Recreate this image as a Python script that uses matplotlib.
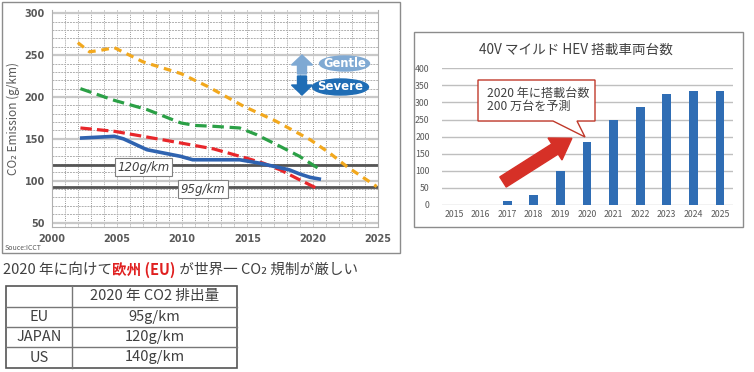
import matplotlib
matplotlib.use("Agg")
import matplotlib.pyplot as plt
from matplotlib.patches import Rectangle, Ellipse, FancyArrow, Polygon

plt.rcParams['font.family'] = ['Noto Sans CJK JP', 'DejaVu Sans']

# --- left chart: CO2 emission trends
orange_x = [2002.0, 2002.9, 2003.8, 2004.8, 2007.0, 2009.9, 2011.9, 2014.7, 2017.2, 2019.8, 2021.3, 2022.6, 2024.9]
orange_y = [265, 254, 256, 259, 242, 228, 213, 189, 171, 149, 133, 117, 93]
green_x = [2002.2, 2004.8, 2007.3, 2009.9, 2011.0, 2012.4, 2014.4, 2015.7, 2017.5, 2019.0, 2020.4]
green_y = [210, 196, 185, 169, 166, 165, 163, 155, 141, 129, 115]
red_x = [2002.2, 2004.8, 2007.0, 2009.9, 2012.4, 2014.9, 2016.2, 2017.5, 2019.0, 2020.3]
red_y = [163, 159, 153, 145, 138, 127, 121, 113, 101, 91]
blue_x = [2002.3, 2004.8, 2005.5, 2007.3, 2009.9, 2010.8, 2014.4, 2015.9, 2018.2, 2019.0, 2019.8, 2020.5]
blue_y = [151, 153, 150, 137, 129, 125, 125, 121, 113, 108, 104, 102]
ref_values = [118.5, 92]
ref_labels = ['120g/km', '95g/km']

# --- right chart: 40V mild HEV volume
bar_years = [2015, 2016, 2017, 2018, 2019, 2020, 2021, 2022, 2023, 2024, 2025]
bar_values = [0, 0, 11, 28, 100, 183, 249, 286, 325, 334, 334]

# --- table
table_header = '2020 年 CO2 排出量'
table_regions = ['EU', 'JAPAN', 'US']
table_limits = ['95g/km', '120g/km', '140g/km']

W, H = 754, 372
fig = plt.figure(figsize=(W / 100, H / 100), dpi=100)

def box(l, t, r, b):
    return [l / W, 1 - b / H, (r - l) / W, (b - t) / H]

gray = '#595959'

# left chart
ax = fig.add_axes(box(51.7, 10, 378, 226.7))
ax.set_xlim(2000, 2025)
ax.set_ylim(45, 304)
for yr in range(2001, 2025):
    ax.axvline(yr, color='#9a9a9a', lw=0.7, ls=(0, (1, 1.2)), zorder=0)
for v in range(50, 301, 10):
    if v % 50 == 0:
        ax.axhline(v, color='#c8c8c8', lw=1.6, zorder=0)
    else:
        ax.axhline(v, color='#b0b0b0', lw=0.7, ls=(0, (2, 1)), zorder=0)
for sp in ax.spines.values():
    sp.set_color('#b0b0b0')
ax.spines['top'].set_visible(False)
ax.set_xticks(range(2000, 2026, 5))
ax.set_yticks(range(50, 301, 50))
ax.tick_params(length=0, labelsize=7, colors=gray, pad=5)
for lab in ax.get_xticklabels() + ax.get_yticklabels():
    lab.set_fontweight('bold')
    lab.set_family('DejaVu Sans')
ax.set_ylabel('CO₂ Emission (g/km)', fontsize=8.5, color=gray, va='center')
ax.yaxis.set_label_coords(-0.118, 0.5)

for v, lab, xc, yc in zip(ref_values, ref_labels, [2007.0, 2011.6], [116, 90]):
    ax.axhline(v, color='#555555', lw=2, zorder=2)
    ax.text(xc, yc, lab, ha='center', va='center', fontsize=8.5,
            style='italic', color='#404040', family='DejaVu Sans', zorder=3,
            bbox=dict(boxstyle='square,pad=0.2', fc='white', ec='#808080', lw=0.8))

ax.plot(orange_x, orange_y, color='#F2A81D', lw=2.3, dashes=(2.4, 1.8), zorder=4)
ax.plot(green_x, green_y, color='#2BA046', lw=2.3, dashes=(3.6, 1.8), zorder=4)
ax.plot(red_x, red_y, color='#E8262A', lw=2.3, dashes=(3.6, 1.6), zorder=4)
ax.plot(blue_x, blue_y, color='#2F63B0', lw=2.6, zorder=5)

# right chart
bx = fig.add_axes(box(442, 68.3, 733, 205))
bx.bar(bar_years, bar_values, width=0.33, color='#2F6DB4', zorder=3)
bx.set_xlim(2014.55, 2025.49)
bx.set_ylim(0, 400)
bx.set_yticks(range(0, 401, 50))
bx.set_xticks(bar_years)
bx.grid(axis='y', color='#bfbfbf', lw=1, zorder=0)
for sp in bx.spines.values():
    sp.set_visible(False)
bx.tick_params(length=0, labelsize=6.3, colors=gray)
bx.tick_params(axis='y', pad=9)
for lab in bx.get_yticklabels():
    lab.set_style('italic')

# overlay for frames, notes and table
ov = fig.add_axes([0, 0, 1, 1], zorder=10)
ov.set_xlim(0, W)
ov.set_ylim(H, 0)
ov.axis('off')

ov.add_patch(Rectangle((1.5, 1.5), 398.5, 251.5, fill=False, ec='#8c8c8c', lw=1))
ov.add_patch(Rectangle((414, 32), 329, 195, fill=False, ec='#8c8c8c', lw=1))
ov.text(5, 248, 'Souce:ICCT', fontsize=5, color=gray, va='center')

# gentle / severe
ov.add_patch(FancyArrow(302, 74, 0, -9, width=9, head_width=21, head_length=10,
                        color='#7FA9D3', length_includes_head=False))
ov.add_patch(FancyArrow(302, 76, 0, 9, width=9, head_width=21, head_length=10,
                        color='#1F6DB5', length_includes_head=False))
ov.add_patch(Ellipse((344.5, 63.5), 50, 15, color='#7FA9D3'))
ov.add_patch(Ellipse((340.5, 87), 56, 16, color='#1F6DB5'))
ov.text(344.5, 63.5, 'Gentle', color='white', fontsize=8.3, fontweight='bold',
        ha='center', va='center', family='DejaVu Sans')
ov.text(340.5, 87, 'Severe', color='white', fontsize=8.5, fontweight='bold',
        ha='center', va='center', family='DejaVu Sans')

# right title and callout
ov.text(576, 50, '40V マイルド HEV 搭載車両台数', fontsize=9.8, color='#404040',
        ha='center', va='center')
ov.add_patch(Polygon([(478, 80), (595, 80), (595, 121), (577, 121), (585, 137),
                      (553, 121), (478, 121)], closed=True, fc='white', ec='#C0392B', lw=1))
ov.text(487, 93, '2020 年に搭載台数', fontsize=8.7, color='#404040', va='center')
ov.text(487, 106, '200 万台を予測', fontsize=8.7, color='#404040', va='center')
ov.add_patch(FancyArrow(503, 182, 52, -33, width=12, head_width=26, head_length=20,
                        color='#D63027', length_includes_head=False))

# headline with coloured part
fig.canvas.draw()
rend = fig.canvas.get_renderer()
xpos = 3
for piece, col, wt in [('2020 年に向けて', '#404040', 'normal'),
                       ('欧州 (EU)', '#E02020', 'bold'),
                       (' が世界一 CO₂ 規制が厳しい', '#404040', 'normal')]:
    t = ov.text(xpos, 270, piece, fontsize=10.5, color=col, fontweight=wt, va='center')
    xpos += t.get_window_extent(rend).width

# table
rows_y = [286, 306.7, 326.7, 346.7, 368.3]
cols_x = [6, 72, 237]
ov.add_patch(Rectangle((cols_x[0], rows_y[0]), cols_x[2] - cols_x[0], rows_y[-1] - rows_y[0],
                       fill=False, ec='#555555', lw=1.2))
for yv in rows_y[1:-1]:
    ov.plot([cols_x[0], cols_x[2]], [yv, yv], color='#777777', lw=1)
ov.plot([cols_x[1], cols_x[1]], [rows_y[0], rows_y[-1]], color='#777777', lw=1)
ov.text((cols_x[1] + cols_x[2]) / 2, (rows_y[0] + rows_y[1]) / 2, table_header,
        fontsize=10.5, color='#404040', ha='center', va='center')
for i, (reg, lim) in enumerate(zip(table_regions, table_limits)):
    yc = (rows_y[i + 1] + rows_y[i + 2]) / 2
    ov.text((cols_x[0] + cols_x[1]) / 2, yc, reg, fontsize=10.5, color='#404040',
            ha='center', va='center')
    ov.text((cols_x[1] + cols_x[2]) / 2, yc, lim, fontsize=10.5, color='#404040',
            ha='center', va='center')

fig.savefig('out.png', dpi=100)
